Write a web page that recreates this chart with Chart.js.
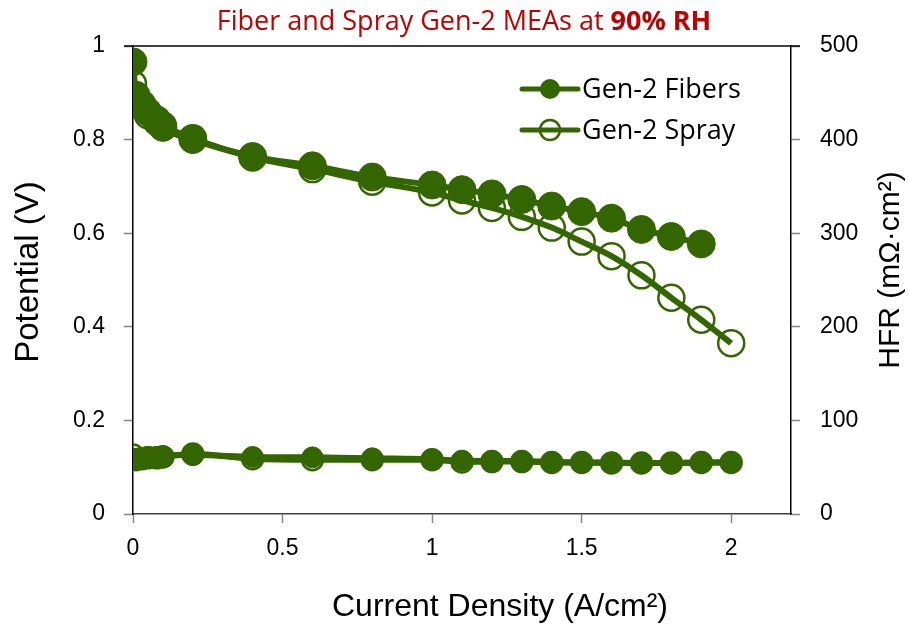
<!DOCTYPE html>
<html>
<head>
<meta charset="utf-8">
<script src="https://cdn.jsdelivr.net/npm/chart.js@4.4.1/dist/chart.umd.min.js"></script>
<style>
  html, body { margin: 0; padding: 0; background: #fff; }
  #wrap { width: 908px; height: 629px; }
</style>
</head>
<body>
<div id="wrap"><canvas id="chart" width="908" height="629"></canvas></div>
<script>
// ---- data ----
const currentDensity  = [0, 0.01, 0.03, 0.05, 0.08, 0.1, 0.2, 0.4, 0.6, 0.8, 1.0, 1.1, 1.2, 1.3, 1.4, 1.5, 1.6, 1.7, 1.8, 1.9, 2.0];
const fibersPotential = [0.966, 0.895, 0.876, 0.859, 0.842, 0.826, 0.800, 0.764, 0.744, 0.720, 0.703, 0.693, 0.684, 0.672, 0.658, 0.646, 0.632, 0.608, 0.593, 0.577, null];
const sprayPotential  = [0.919, 0.890, 0.870, 0.852, 0.838, 0.830, 0.803, 0.762, 0.737, 0.710, 0.687, 0.670, 0.654, 0.635, 0.612, 0.582, 0.551, 0.510, 0.462, 0.415, 0.365];
const fibersHFR       = [58, 59, 60, 61, 61, 62, 63, 61, 60.5, 59.5, 58.5, 57, 56.5, 56.5, 55.5, 55, 55, 54.5, 54.5, 55, 55];
const sprayHFR        = [63, 58, 59, 60, 60, 61, 64, 59, 58, 58, 58, 55.5, 56, 56, 55, 55, 54.5, 54.5, 54.5, 55, 55];

const xTicks  = [0, 0.5, 1, 1.5, 2];
const seriesNames = ['Gen-2 Fibers', 'Gen-2 Spray'];
const titleText = ['Fiber and Spray Gen-2 MEAs at ', '90% RH'];
const axisTitles = { x: 'Current Density (A/cm²)', y: 'Potential (V)', y1: 'HFR (mΩ·cm²)' };

const GREEN = '#346600';
const FONT = "'Liberation Sans', Arial, sans-serif";
const CAL  = "'Open Sans', 'Noto Sans', sans-serif";

function pts(ys) {
  return currentDensity.map((x, i) => ({ x: x, y: ys[i] }));
}

function plainNum(v) {
  return String(+(+v).toFixed(2));
}

// title, legend, axis titles, top frame line
const overlay = {
  id: 'overlay',
  afterDraw(chart) {
    const ctx = chart.ctx;
    const a = chart.chartArea;
    ctx.save();

    ctx.strokeStyle = '#000';
    ctx.lineWidth = 1.5;
    ctx.beginPath();
    ctx.moveTo(a.left - 9, a.top);
    ctx.lineTo(a.right + 9, a.top);
    ctx.stroke();

    // title, normal + bold part
    ctx.fillStyle = '#C00000';
    ctx.textBaseline = 'middle';
    ctx.font = '27px ' + CAL;
    const w1 = ctx.measureText(titleText[0]).width;
    ctx.font = 'bold 27px ' + CAL;
    const w2 = ctx.measureText(titleText[1]).width;
    const tx = 464 - (w1 + w2) / 2;
    ctx.font = '27px ' + CAL;
    ctx.textAlign = 'left';
    ctx.fillText(titleText[0], tx, 22);
    ctx.font = 'bold 27px ' + CAL;
    ctx.fillText(titleText[1], tx + w1, 22);

    // legend
    const rows = [89, 130];
    rows.forEach((ly, i) => {
      ctx.strokeStyle = GREEN;
      ctx.lineWidth = 5;
      ctx.lineCap = 'round';
      ctx.beginPath();
      ctx.moveTo(522, ly);
      ctx.lineTo(578, ly);
      ctx.stroke();
      ctx.beginPath();
      ctx.arc(550, ly, 10, 0, Math.PI * 2);
      if (i === 0) {
        ctx.fillStyle = GREEN;
        ctx.fill();
      } else {
        ctx.fillStyle = '#fff';
        ctx.fill();
        ctx.lineWidth = 2.5;
        ctx.stroke();
        ctx.lineWidth = 5;
        ctx.beginPath();
        ctx.moveTo(540, ly);
        ctx.lineTo(560, ly);
        ctx.stroke();
      }
      ctx.fillStyle = '#000';
      ctx.font = '27px ' + CAL;
      ctx.textAlign = 'left';
      ctx.fillText(seriesNames[i], 582, ly + 1);
    });

    // axis titles
    ctx.fillStyle = '#000';
    ctx.textAlign = 'center';
    ctx.font = '32px ' + FONT;
    ctx.fillText(axisTitles.x, 500, 607);

    ctx.save();
    ctx.translate(29, 272);
    ctx.rotate(-Math.PI / 2);
    ctx.font = '33px ' + FONT;
    ctx.fillText(axisTitles.y, 0, 0);
    ctx.restore();

    ctx.translate(891, 270);
    ctx.rotate(-Math.PI / 2);
    ctx.font = '30px ' + FONT;
    ctx.fillText(axisTitles.y1, 0, 0);
    ctx.restore();
  }
};

const gridOpts = {
  display: true,
  drawOnChartArea: false,
  drawTicks: true,
  tickLength: 9,
  tickWidth: 1.5,
  tickColor: '#868686'
};

new Chart(document.getElementById('chart'), {
  type: 'line',
  data: {
    datasets: [
      {
        label: seriesNames[0],
        data: pts(fibersPotential),
        yAxisID: 'y',
        order: 0,
        borderColor: GREEN,
        backgroundColor: GREEN,
        borderWidth: 6,
        pointRadius: 14,
        pointBackgroundColor: GREEN,
        pointBorderColor: GREEN,
        pointBorderWidth: 1,
        cubicInterpolationMode: 'monotone'
      },
      {
        label: seriesNames[1],
        data: pts(sprayPotential),
        yAxisID: 'y',
        order: 1,
        borderColor: GREEN,
        backgroundColor: 'transparent',
        borderWidth: 6,
        pointRadius: 13,
        pointBackgroundColor: 'rgba(255,255,255,0)',
        pointBorderColor: GREEN,
        pointBorderWidth: 2.5,
        cubicInterpolationMode: 'monotone'
      },
      {
        label: seriesNames[0] + ' HFR',
        data: pts(fibersHFR),
        yAxisID: 'y1',
        order: 2,
        borderColor: GREEN,
        backgroundColor: GREEN,
        borderWidth: 6,
        pointRadius: 10.5,
        pointBackgroundColor: GREEN,
        pointBorderColor: GREEN,
        pointBorderWidth: 1,
        cubicInterpolationMode: 'monotone'
      },
      {
        label: seriesNames[1] + ' HFR',
        data: pts(sprayHFR),
        yAxisID: 'y1',
        order: 3,
        borderColor: GREEN,
        backgroundColor: 'transparent',
        borderWidth: 6,
        pointRadius: 10.5,
        pointBackgroundColor: 'rgba(255,255,255,0)',
        pointBorderColor: GREEN,
        pointBorderWidth: 2.5,
        cubicInterpolationMode: 'monotone'
      }
    ]
  },
  options: {
    responsive: false,
    animation: false,
    layout: { padding: { top: 46, left: 0, right: 0, bottom: 0 } },
    plugins: {
      legend: { display: false },
      tooltip: { enabled: false },
      title: { display: false }
    },
    scales: {
      x: {
        type: 'linear',
        min: 0,
        max: 2.2,
        afterBuildTicks: s => { s.ticks = xTicks.map(v => ({ value: v })); },
        afterFit: s => { s.height = 115; },
        grid: gridOpts,
        border: { display: true, color: '#404040', width: 1.5 },
        ticks: { color: '#000', padding: 12, font: { family: FONT, size: 23 }, callback: plainNum }
      },
      y: {
        position: 'left',
        min: 0,
        max: 1,
        ticks: { stepSize: 0.2, color: '#000', padding: 19, font: { family: FONT, size: 23 }, callback: plainNum },
        afterFit: s => { s.width = 133; },
        grid: gridOpts,
        border: { display: true, color: '#000', width: 1.5 }
      },
      y1: {
        position: 'right',
        min: 0,
        max: 500,
        ticks: { stepSize: 100, color: '#000', padding: 20, font: { family: FONT, size: 23 } },
        afterFit: s => { s.width = 117; },
        grid: gridOpts,
        border: { display: true, color: '#000', width: 1.5 }
      }
    }
  },
  plugins: [overlay]
});
</script>
</body>
</html>
